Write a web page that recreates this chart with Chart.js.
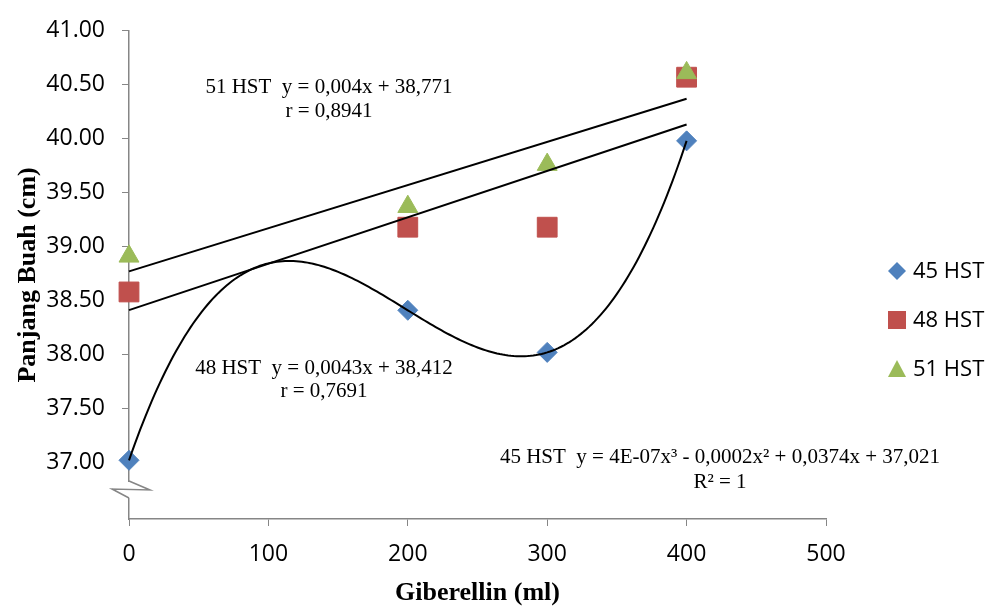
<!DOCTYPE html>
<html>
<head>
<meta charset="utf-8">
<script src="https://cdn.jsdelivr.net/npm/chart.js@4"></script>
<style>
  html, body { margin: 0; padding: 0; background: #fff; }
  #wrap { width: 989px; height: 606px; }
</style>
</head>
<body>
<div id="wrap"><canvas id="chart" width="989" height="606"></canvas></div>
<script>
// data
const doses = [0, 200, 300, 400];
const hst45 = [37.02, 38.41, 38.02, 39.98];
const hst48 = [38.58, 39.18, 39.18, 40.57];
const hst51 = [38.91, 39.37, 39.76, 40.61];
const seriesNames = ["45 HST", "48 HST", "51 HST"];
const yTicks = [37, 37.5, 38, 38.5, 39, 39.5, 40, 40.5, 41];

// trendline labels as printed on the chart
const fit51 = [0.004, 38.771];   // slope, intercept
const fit48 = [0.0043, 38.412];
const notes = [
    ["51 HST  y = 0,004x + 38,771", "r = 0,8941"],
    ["48 HST  y = 0,0043x + 38,412", "r = 0,7691"],
    ["45 HST  y = 4E-07x\u00B3 - 0,0002x\u00B2 + 0,0374x + 37,021", "R\u00B2 = 1"]
];

const BLUE = "#4F81BD", RED = "#C0504D", GREEN = "#9BBB59", AXIS = "#868686";

function pts(ys) {
    return doses.map((d, i) => ({ x: d, y: ys[i] }));
}

// cubic through the four 45 HST points (R² = 1)
function lagrange(x) {
    let sum = 0;
    for (let i = 0; i < doses.length; i++) {
        let term = hst45[i];
        for (let j = 0; j < doses.length; j++) {
            if (j !== i) term *= (x - doses[j]) / (doses[i] - doses[j]);
        }
        sum += term;
    }
    return sum;
}

const extras = {
    id: "extras",
    afterDatasetsDraw(chart) {
        const ctx = chart.ctx;
        const xs = chart.scales.x, ys = chart.scales.y;
        ctx.save();
        ctx.strokeStyle = "#000";
        ctx.lineWidth = 2;

        // linear trendlines
        [fit51, fit48].forEach(f => {
            ctx.beginPath();
            ctx.moveTo(xs.getPixelForValue(0), ys.getPixelForValue(f[1]));
            ctx.lineTo(xs.getPixelForValue(400), ys.getPixelForValue(f[1] + 400 * f[0]));
            ctx.stroke();
        });

        // polynomial trendline
        ctx.beginPath();
        for (let x = 0; x <= 400; x += 2) {
            const px = xs.getPixelForValue(x), py = ys.getPixelForValue(lagrange(x));
            if (x === 0) ctx.moveTo(px, py); else ctx.lineTo(px, py);
        }
        ctx.stroke();
        ctx.restore();
    },
    afterDraw(chart) {
        const ctx = chart.ctx;
        const area = chart.chartArea;
        ctx.save();

        // axis break on the y axis
        const bx = area.left;
        ctx.fillStyle = "#fff";
        ctx.fillRect(bx - 3, 482, 6, 16);
        ctx.strokeStyle = AXIS;
        ctx.lineWidth = 1.5;
        ctx.beginPath();
        ctx.moveTo(bx, 481);
        ctx.lineTo(bx + 21, 490);
        ctx.lineTo(bx - 17, 489);
        ctx.lineTo(bx, 498);
        ctx.stroke();

        // trendline equations
        ctx.fillStyle = "#000";
        ctx.font = "21px 'Liberation Serif'";
        ctx.textAlign = "center";
        ctx.textBaseline = "middle";
        const spots = [[329, 87, 111], [324, 368, 391], [720, 457, 482]];
        notes.forEach((n, i) => {
            ctx.fillText(n[0], spots[i][0], spots[i][1]);
            ctx.fillText(n[1], spots[i][0], spots[i][2]);
        });

        // legend
        const colors = [BLUE, RED, GREEN];
        const rows = [271, 320, 369];
        ctx.font = "22px 'Open Sans'";
        ctx.textAlign = "left";
        seriesNames.forEach((name, i) => {
            const cx = 897, cy = rows[i];
            ctx.fillStyle = colors[i];
            ctx.beginPath();
            if (i === 0) {
                ctx.moveTo(cx, cy - 9); ctx.lineTo(cx + 9, cy);
                ctx.lineTo(cx, cy + 9); ctx.lineTo(cx - 9, cy);
            } else if (i === 1) {
                ctx.rect(cx - 9, cy - 9, 18, 18);
            } else {
                ctx.moveTo(cx, cy - 9); ctx.lineTo(cx + 9, cy + 8);
                ctx.lineTo(cx - 9, cy + 8);
            }
            ctx.closePath();
            ctx.fill();
            ctx.fillStyle = "#000";
            ctx.fillText(name, 913, cy + 1);
        });
        ctx.restore();
    }
};

new Chart(document.getElementById("chart"), {
    type: "scatter",
    data: {
        datasets: [
            { label: seriesNames[0], data: pts(hst45), backgroundColor: BLUE, borderColor: BLUE,
              pointStyle: "rectRot", pointRadius: 10, pointHoverRadius: 10, order: 2, clip: false },
            { label: seriesNames[1], data: pts(hst48), backgroundColor: RED, borderColor: RED,
              pointStyle: "rect", pointRadius: 14, pointHoverRadius: 14, order: 1, clip: false },
            { label: seriesNames[2], data: pts(hst51), backgroundColor: GREEN, borderColor: GREEN,
              pointStyle: "triangle", pointRadius: 11.5, pointHoverRadius: 11.5, order: 0, clip: false }
        ]
    },
    options: {
        responsive: false,
        animation: false,
        layout: { padding: { top: 27, right: 163, left: 0, bottom: 0 } },
        plugins: { legend: { display: false }, tooltip: { enabled: false } },
        scales: {
            x: {
                type: "linear",
                min: 0,
                max: 500,
                ticks: { stepSize: 100, color: "#000", padding: 15,
                         font: { family: "'Open Sans'", size: 23 } },
                grid: { display: true, drawOnChartArea: false, drawTicks: true, tickLength: 7, color: AXIS },
                border: { color: AXIS, width: 1.5 },
                title: { display: true, text: "Giberellin (ml)", color: "#000",
                         font: { family: "'Liberation Serif'", size: 26, weight: "bold", lineHeight: 1 },
                         padding: { top: 0, bottom: 0 } },
                afterFit(s) { s.height = 87; }
            },
            y: {
                min: 36.476,
                max: 41,
                afterBuildTicks(s) { s.ticks = yTicks.map(v => ({ value: v })); },
                ticks: { color: "#000", padding: 17,
                         callback: v => v.toFixed(2),
                         font: { family: "'Open Sans'", size: 23 } },
                grid: { display: true, drawOnChartArea: false, drawTicks: true, tickLength: 7, color: AXIS },
                border: { color: AXIS, width: 1.5 },
                title: { display: true, text: "Panjang Buah (cm)", color: "#000",
                         font: { family: "'Liberation Serif'", size: 26, weight: "bold", lineHeight: 1 },
                         padding: { top: 15, bottom: 0 } },
                afterFit(s) { s.width = 129; }
            }
        }
    },
    plugins: [extras]
});
</script>
</body>
</html>
